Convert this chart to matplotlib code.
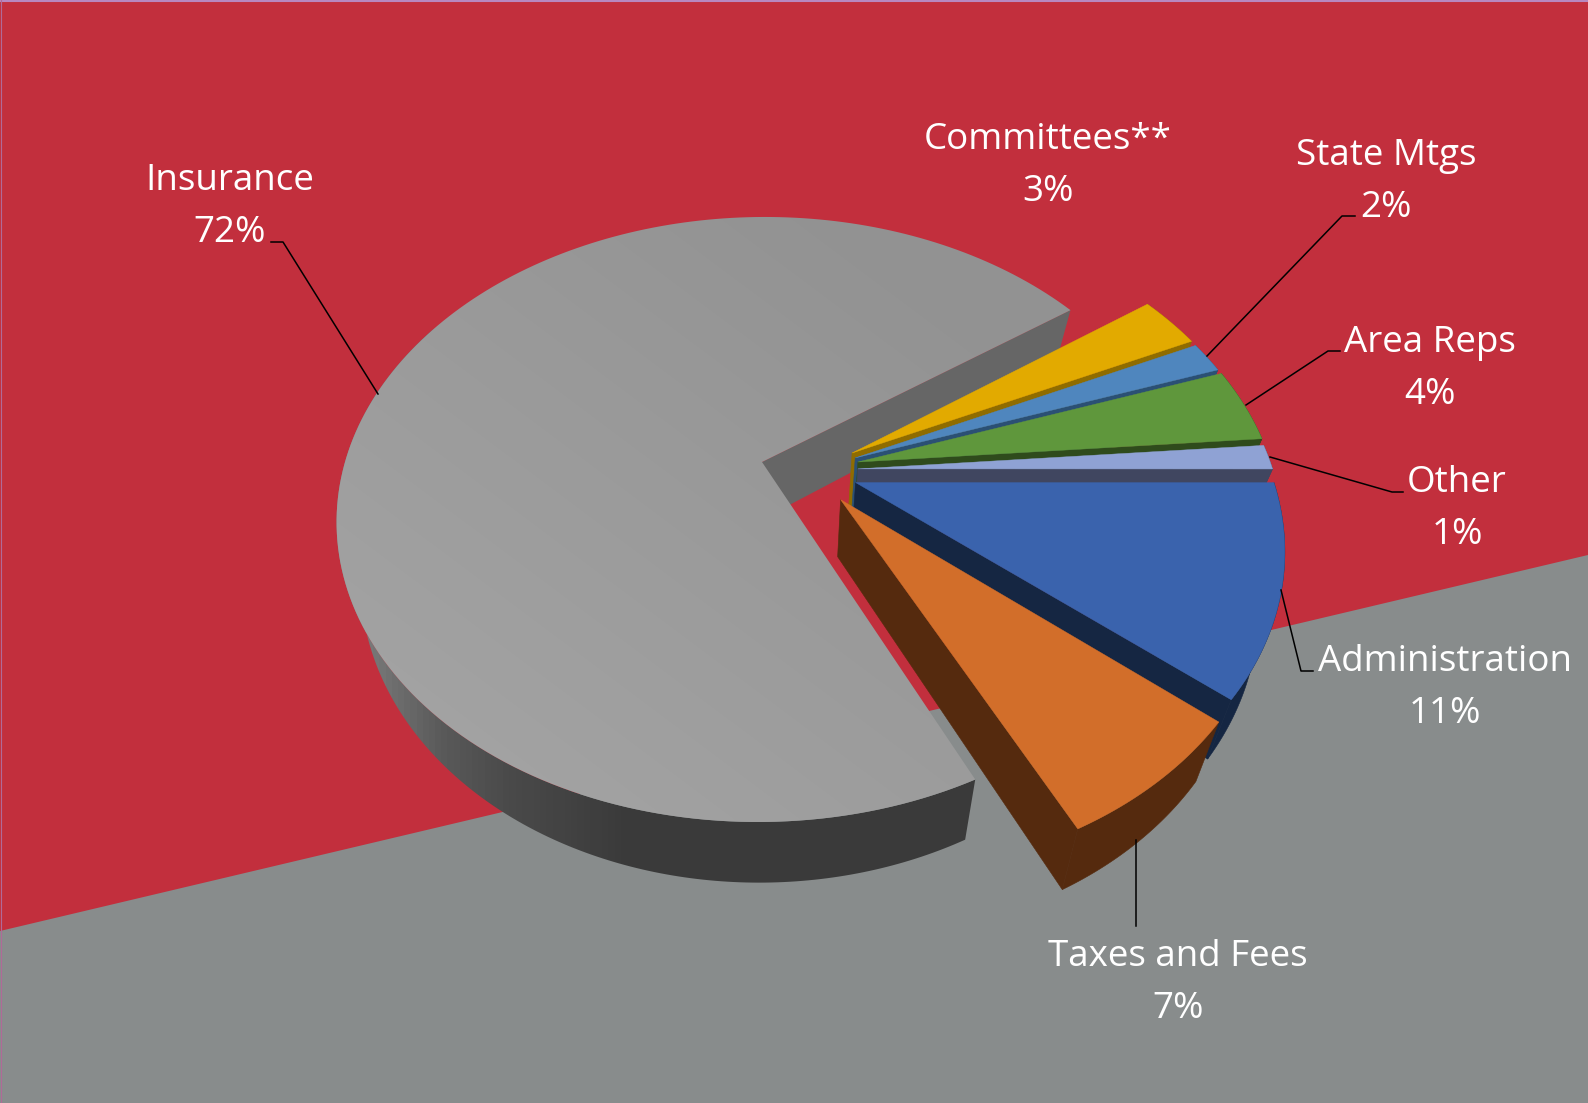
#!/usr/bin/env python
"""Exploded 3D style pie chart of budget shares, drawn in pixel coordinates."""

import matplotlib

matplotlib.use("Agg")
import matplotlib.pyplot as plt
import numpy as np
from matplotlib.colors import LinearSegmentedColormap
from matplotlib.patches import Polygon

# Data, clockwise from the edge where Insurance ends
names = ["Committees**", "State Mtgs", "Area Reps", "Other", "Administration", "Taxes and Fees", "Insurance"]
shares = [2.86, 1.67, 3.97, 1.31, 11.11, 6.65, 72.43]

face_colors = ["#E2AA00", "#4F86BE", "#5F973C", "#8FA2D4", "#3A63AD", "#D26E2A", "#989898"]
wall_colors = ["#8F6C00", "#2B5074", "#2F4B1C", "#404660", "#152642", "#552A0E", "#666666"]

# Layout
WIDTH, HEIGHT = 1588, 1103
START_ANGLE = 54.7
INSURANCE_GAP = 0.5
CENTER_X, CENTER_Y = 762, 462
RADIUS_X, RADIUS_Y = 417, 291.6
TILT = 0.19
SHEAR = -0.012
SLICE_RADIUS = 0.99
explode_x = [0.217, 0.224, 0.230, 0.229, 0.222, 0.185, 0.0]
explode_y = [0.031, 0.014, 0.000, -0.0235, -0.0695, -0.126, 0.0]

label_x = [1048, 1386, 1430, 1457, 1445, 1178, 230]
label_y = [166, 182, 369, 509, 688, 983, 207]
leaders = [
    None,
    [(1355, 216), (1342, 216), (1207, 356)],
    [(1340, 351), (1328, 351), (1246, 405)],
    [(1403, 492), (1392, 492), (1270, 457)],
    [(1313, 671), (1301, 671), (1281, 590)],
    [(1136, 926), (1136, 840)],
    [(271, 242), (283, 242), (378, 394)],
]


def project(x, y):
    """Disk coordinates to pixels, the back of the disk being smaller."""
    w = 1 + TILT * np.asarray(y)
    py = CENTER_Y - RADIUS_Y * np.asarray(y) / w
    px = CENTER_X + RADIUS_X * np.asarray(x) / w + SHEAR * (py - CENTER_Y)
    return px, py


def drop(px, py):
    """Pixel position of the bottom of the pie under a top point."""
    px, py = np.asarray(px, dtype=float), np.asarray(py, dtype=float)
    return px - 0.053 * (px - 785), py + 55 + 0.011 * (py - 310)


def slice_points(i, a0, a1):
    t = np.radians(np.linspace(a0, a1, 200))
    r = 1.0 if i == 6 else SLICE_RADIUS
    return project(explode_x[i] + r * np.sin(t), explode_y[i] + r * np.cos(t))


def gradient(ax, clip, values, colors, z):
    cmap = LinearSegmentedColormap.from_list("shade", colors)
    im = ax.imshow(values, extent=(0, WIDTH, HEIGHT, 0), cmap=cmap, vmin=0, vmax=1,
                   aspect="auto", interpolation="bilinear", zorder=z)
    im.set_clip_path(Polygon(clip, closed=True, transform=ax.transData))


def draw_insurance(ax, a0, a1):
    ox, oy = project(explode_x[6], explode_y[6])

    # Outer wall, seen only along the front of the pie
    wx, wy = slice_points(6, a0, 300)
    bx, by = drop(wx, wy)
    band = np.column_stack([np.r_[wx, bx[::-1]], np.r_[wy, by[::-1]]])
    xx = np.linspace(0, 1, 400)[None, :]
    shade = [(0, "#808080"), (0.22, "#808080"), (0.277, "#5A5A5A"), (0.319, "#4A4A4A"), (0.392, "#3B3B3B"), (1, "#393939")]
    gradient(ax, band, np.repeat(xx, 2, axis=0), shade, 2)

    # Cut wall at the start edge
    sx, sy = slice_points(6, a1, a1 + 0.01)
    bx0, by0 = drop(ox, oy)
    bx1, by1 = drop(sx[0], sy[0])
    ax.add_patch(Polygon([(ox, oy), (sx[0], sy[0]), (bx1, by1), (bx0, by0)],
                         facecolor=wall_colors[6], edgecolor="none", zorder=3))

    # Top face
    px, py = slice_points(6, a0, a1)
    face = np.column_stack([np.r_[ox, px], np.r_[oy, py]])
    yy, xg = np.mgrid[0:1:200j, 0:1:200j]
    gradient(ax, face, np.clip(yy * 1.3 - xg * 1.4 + 0.5, 0, 1), ["#929292", "#A3A3A3"], 4)


def draw_slice(ax, i, a0, a1, z):
    ox, oy = project(explode_x[i], explode_y[i])
    px, py = slice_points(i, a0, a1)
    bx, by = drop(px, py)
    bx0, by0 = drop(ox, oy)
    # Walls: the cut at the clockwise edge and the rim
    cut = [(ox, oy), (px[-1], py[-1]), (bx[-1], by[-1]), (bx0, by0)]
    rim = np.column_stack([np.r_[px, bx[::-1]], np.r_[py, by[::-1]]])
    ax.add_patch(Polygon(rim, facecolor=wall_colors[i], edgecolor=wall_colors[i], linewidth=0.4, zorder=z))
    ax.add_patch(Polygon(cut, facecolor=wall_colors[i], edgecolor=wall_colors[i], linewidth=0.4, zorder=z))
    top = np.column_stack([np.r_[ox, px], np.r_[oy, py]])
    ax.add_patch(Polygon(top, facecolor=face_colors[i], edgecolor=face_colors[i], linewidth=0.3, zorder=z + 0.5))


def main():
    fig = plt.figure(figsize=(WIDTH / 100, HEIGHT / 100), dpi=100)
    ax = fig.add_axes([0, 0, 1, 1])
    ax.axis("off")

    # Background
    ax.add_patch(Polygon([(0, 0), (WIDTH, 0), (WIDTH, HEIGHT), (0, HEIGHT)], facecolor="#C22F3D", edgecolor="none", zorder=0))
    ax.add_patch(Polygon([(0, 931), (WIDTH, 555), (WIDTH, HEIGHT), (0, HEIGHT)], facecolor="#888C8C", edgecolor="none", zorder=1))
    ax.plot([0, WIDTH], [1, 1], color="#B888C0", linewidth=1.5, zorder=1.5)
    ax.plot([0.5, 0.5], [0, HEIGHT], color="#B06A98", linewidth=0.8, zorder=1.5)

    # Slices, back to front
    edges = START_ANGLE + np.r_[0, np.cumsum(shares)] * 3.6
    draw_insurance(ax, edges[6] + INSURANCE_GAP, edges[7])
    for i in range(6):
        draw_slice(ax, i, edges[i], edges[i + 1], 5 + i)

    # Leader lines and labels
    for points in leaders:
        if points:
            xs, ys = zip(*points)
            ax.plot(xs, ys, color="black", linewidth=1.1, zorder=12)
    for name, share, x, y in zip(names, shares, label_x, label_y):
        ax.text(x, y - 26, name, color="white", fontsize=26.5, family="Open Sans", ha="center", va="center", zorder=13)
        ax.text(x, y + 26, f"{share:.0f}%", color="white", fontsize=26.5, family="Open Sans", ha="center", va="center", zorder=13)

    ax.set_xlim(0, WIDTH)
    ax.set_ylim(HEIGHT, 0)
    fig.savefig("out.png", dpi=100)


if __name__ == "__main__":
    main()
